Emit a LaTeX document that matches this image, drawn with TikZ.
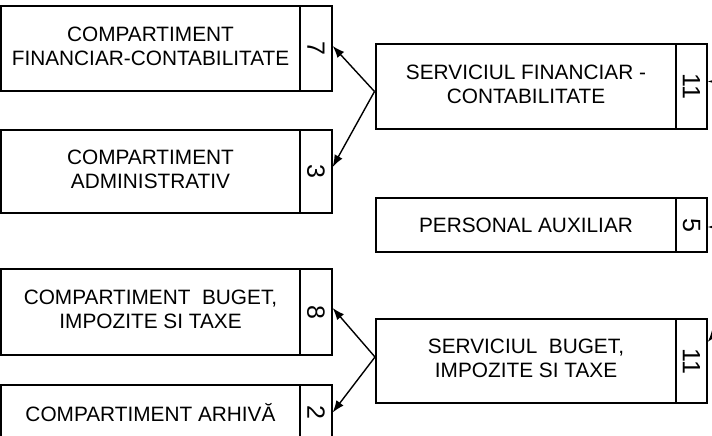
\documentclass[tikz,border=0pt]{standalone}
\usepackage{fontspec}
\setmainfont{Liberation Sans}
\usetikzlibrary{arrows.meta}
\begin{document}
\begin{tikzpicture}[x=1pt,y=-1pt,
  box/.style={draw,line width=1.3pt,inner sep=0pt},
  lbl/.style={inner sep=0pt,align=center,font=\fontsize{20.8}{24}\selectfont},
  numtxt/.style={rotate=-90,inner sep=0pt,font=\fontsize{25}{26}\selectfont},
  arr/.style={line width=1.4pt,-{Latex[length=12pt,width=9pt]}}]
\useasboundingbox (0,0) rectangle (712,436);
\clip (0,0) rectangle (712,436);
% left column
\node[box,minimum width=299pt,minimum height=85pt] (b1) at (150.5,48.5) {};
\node[lbl] (l1) at ([yshift=2.5pt]b1.center) {COMPARTIMENT\\FINANCIAR-CONTABILITATE};
\node[box,minimum width=32pt,minimum height=85pt] (n1) at (316,48.5) {};
\node[numtxt] (t1) at (n1.center) {7};
\node[box,minimum width=299pt,minimum height=83pt] (b2) at (150.5,171.5) {};
\node[lbl] (l2) at ([yshift=2.5pt]b2.center) {COMPARTIMENT\\ADMINISTRATIV};
\node[box,minimum width=32pt,minimum height=83pt] (n2) at (316,171.5) {};
\node[numtxt] (t2) at (n2.center) {3};
\node[box,minimum width=299pt,minimum height=86pt] (b3) at (150.5,312) {};
\node[lbl] (l3) at ([yshift=3pt]b3.center) {COMPARTIMENT~~BUGET,\\IMPOZITE SI TAXE};
\node[box,minimum width=32pt,minimum height=86pt] (n3) at (316,312) {};
\node[numtxt] (t3) at (n3.center) {8};
\node[box,minimum width=299pt,minimum height=55pt] (b4) at (150.5,412.5) {};
\node[lbl] (l4) at (b4.center) {COMPARTIMENT ARHIVĂ};
\node[box,minimum width=32pt,minimum height=55pt] (n4) at (316,412.5) {};
\node[numtxt] (t4) at (n4.center) {2};
% right column
\node[box,minimum width=300pt,minimum height=85pt] (s1) at (526,86.5) {};
\node[lbl] (k1) at ([yshift=2.5pt]s1.center) {SERVICIUL FINANCIAR -\\CONTABILITATE};
\node[box,minimum width=31pt,minimum height=85pt] (m1) at (691.5,86.5) {};
\node[numtxt] (u1) at (m1.center) {11};
\node[box,minimum width=300pt,minimum height=54pt] (s2) at (526,225) {};
\node[lbl] (k2) at (s2.center) {PERSONAL AUXILIAR};
\node[box,minimum width=31pt,minimum height=54pt] (m2) at (691.5,225) {};
\node[numtxt] (u2) at (m2.center) {5};
\node[box,minimum width=300pt,minimum height=84pt] (s3) at (526,361) {};
\node[lbl] (k3) at ([yshift=2.5pt]s3.center) {SERVICIUL~~BUGET,\\IMPOZITE SI TAXE};
\node[box,minimum width=31pt,minimum height=84pt] (m3) at (691.5,361) {};
\node[numtxt] (u3) at (m3.center) {11};
% connectors
\coordinate (a1) at (374.5,91.5);
\coordinate (a2) at (375,357);
\draw[arr] (a1) -- ([yshift=2.5pt]n1.east);
\draw[arr] (a1) -- ([yshift=4.5pt]n2.east);
\draw[arr] (a2) -- ([yshift=4pt]n3.east);
\draw[arr] (a2) -- (n4.east);
\coordinate (e1) at (740,81);
\coordinate (e2) at (740,227);
\coordinate (e3) at (728,318);
\draw[arr] (e1) -- ([yshift=5pt]m1.east);
\draw[arr] (e2) -- ([yshift=-2pt]m2.east);
\draw[arr] (e3) -- ([yshift=19pt]m3.east);
\end{tikzpicture}
\end{document}
